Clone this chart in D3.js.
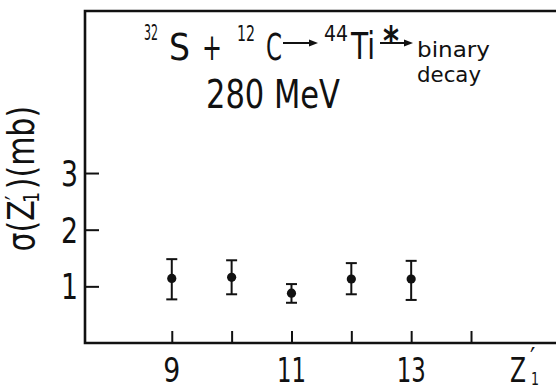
<!DOCTYPE html>
<html>
<head>
<meta charset="utf-8">
<script src="https://cdn.jsdelivr.net/npm/d3@7"></script>
<style>
  html, body { margin: 0; padding: 0; background: #fff; }
  text { font-family: "DejaVu Sans Condensed", "DejaVu Sans", sans-serif; fill: #111; }
</style>
</head>
<body>
<div id="chart"></div>
<script>
// fragment charge Z'1 and measured cross section (mb) with error limits
const zValues = [9, 10, 11, 12, 13];
const sigma = [1.14, 1.16, 0.88, 1.13, 1.13];
const sigmaHigh = [1.48, 1.46, 1.04, 1.41, 1.45];
const sigmaLow = [0.77, 0.86, 0.71, 0.86, 0.76];

const xTicks = [9, 10, 11, 12, 13, 14];
const xTickLabels = [9, 11, 13];
const yTicks = [1, 2, 3];

const width = 556;
const height = 389;
const margin = { top: 11, left: 85, bottom: 46 };
const ink = '#111';

const svg = d3
  .select('#chart')
  .append('svg')
  .attr('width', width)
  .attr('height', height);

const x = d3.scaleLinear().domain([7.55, 15.42]).range([margin.left, width]);
const y = d3.scaleLinear().domain([0, 5.86]).range([height - margin.bottom, margin.top]);

// the lettering of the original is narrow, so squeeze text to its measured width
function label(px, py, str, size, len, anchor) {
  const t = svg
    .append('text')
    .attr('x', px)
    .attr('y', py)
    .attr('font-size', size)
    .attr('text-anchor', anchor || 'start')
    .text(str);
  if (len) t.attr('textLength', len).attr('lengthAdjust', 'spacingAndGlyphs');
  return t;
}

// frame: left, top and bottom lines
svg
  .append('path')
  .attr('d', `M${width},${y(0)}H${x.range()[0]}V${margin.top}H${width}`)
  .attr('fill', 'none')
  .attr('stroke', ink)
  .attr('stroke-width', 2.6);

// x axis ticks pointing inward
svg
  .append('g')
  .attr('transform', `translate(0,${y(0)})`)
  .call(d3.axisTop(x).tickValues(xTicks).tickSize(12).tickFormat(''))
  .call((g) => g.select('.domain').remove())
  .call((g) => g.selectAll('line').attr('stroke', ink).attr('stroke-width', 2));

xTickLabels.forEach((d) => label(x(d), y(0) + 39, d, 34, String(d).length * 12 + 5, 'middle'));

// y axis ticks pointing inward
svg
  .append('g')
  .attr('transform', `translate(${margin.left},0)`)
  .call(d3.axisRight(y).tickValues(yTicks).tickSize(14).tickFormat(''))
  .call((g) => g.select('.domain').remove())
  .call((g) => g.selectAll('line').attr('stroke', ink).attr('stroke-width', 2));

yTicks.forEach((d) => label(margin.left - 7, y(d) + 13, d, 36, 17, 'end'));

// x axis title Z'1
label(x(14.65), y(0) + 39, 'Z', 34, 16);
label(x(14.65) + 20, y(0) + 24, '\u2032', 26);
label(x(14.65) + 21, y(0) + 42, '1', 18, 8);

// y axis title σ(Z'1)(mb)
const yTitle = svg
  .append('text')
  .attr('transform', `translate(34,${y(2.9)}) rotate(-90) scale(0.9,1)`)
  .attr('text-anchor', 'middle')
  .attr('font-size', 37);
yTitle.append('tspan').text('\u03c3(Z');
yTitle.append('tspan').attr('font-size', 26).attr('dy', -9).text('\u2032');
yTitle.append('tspan').attr('font-size', 21).attr('dx', -8).attr('dy', 14).text('1');
yTitle.append('tspan').attr('dx', 3).attr('dy', -5).text(')(mb)');

// error bars
const bars = svg
  .append('g')
  .selectAll('g')
  .data(zValues)
  .enter()
  .append('g')
  .attr('stroke', ink)
  .attr('stroke-width', 2);

bars
  .append('line')
  .attr('x1', (d) => x(d))
  .attr('x2', (d) => x(d))
  .attr('y1', (d, i) => y(sigmaLow[i]))
  .attr('y2', (d, i) => y(sigmaHigh[i]));

bars
  .append('line')
  .attr('x1', (d) => x(d) - 5.5)
  .attr('x2', (d) => x(d) + 5.5)
  .attr('y1', (d, i) => y(sigmaHigh[i]))
  .attr('y2', (d, i) => y(sigmaHigh[i]));

bars
  .append('line')
  .attr('x1', (d) => x(d) - 5.5)
  .attr('x2', (d) => x(d) + 5.5)
  .attr('y1', (d, i) => y(sigmaLow[i]))
  .attr('y2', (d, i) => y(sigmaLow[i]));

svg
  .append('g')
  .selectAll('circle')
  .data(zValues)
  .enter()
  .append('circle')
  .attr('cx', (d) => x(d))
  .attr('cy', (d, i) => y(sigma[i]))
  .attr('r', 4.6)
  .attr('fill', ink);

// reaction label: 32S + 12C -> 44Ti* -> binary decay, 280 MeV
label(144, 40, '32', 22, 14);
label(169, 60, 'S', 37, 21);
label(202, 60, '+', 37, 20);
label(237, 41, '12', 22, 18);
label(266, 60, 'C', 37, 16);
label(324, 41, '44', 22, 24);
label(351, 59, 'Ti', 37, 24);
label(391, 55, '*', 40, 16, 'middle').attr('font-weight', 'bold');
label(417, 57, 'binary', 22, 73);
label(417, 82, 'decay', 22, 64);
label(206, 108, '280 MeV', 39, 134);

// reaction arrows
const arrows = [[283, 318], [380, 413]];
arrows.forEach(([a, b]) => {
  svg.append('line').attr('x1', a).attr('x2', b - 6).attr('y1', 43).attr('y2', 43)
    .attr('stroke', ink).attr('stroke-width', 2);
  svg.append('path').attr('d', `M${b},43L${b - 9},39.5L${b - 9},46.5Z`).attr('fill', ink);
});
</script>
</body>
</html>
